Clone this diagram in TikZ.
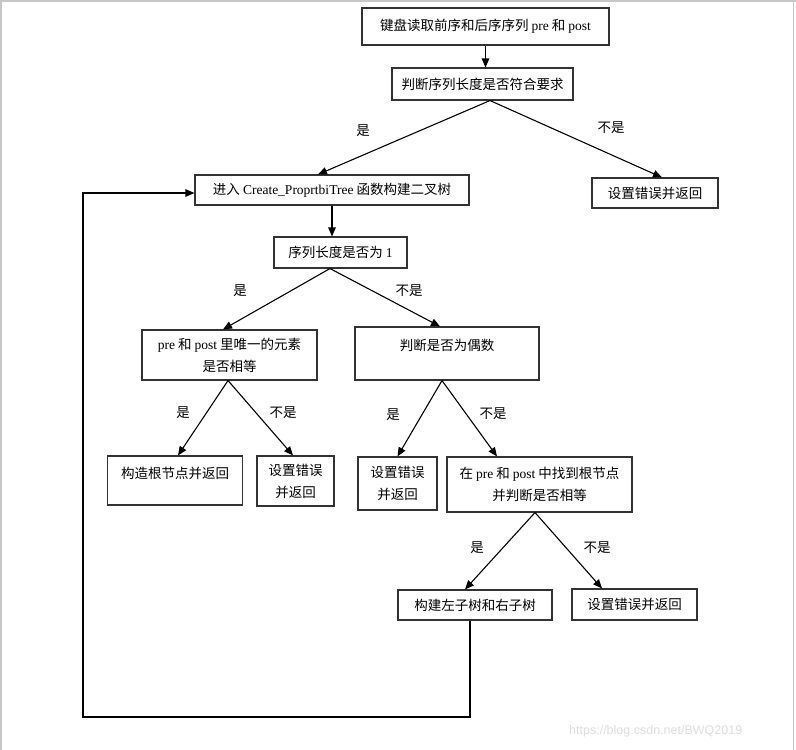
\documentclass[tikz,border=0pt]{standalone}
\usepackage{fontspec}
\setmainfont{Noto Sans CJK SC}
\newfontfamily\lat{Liberation Serif}
\newfontfamily\wmfont{Liberation Sans}
\usetikzlibrary{arrows.meta,calc}
\begin{document}
\begin{tikzpicture}[x=1pt,y=-1pt,
  box/.style={draw=black!80,line width=1.1pt,inner sep=0pt,align=center,font=\fontsize{13.5}{22}\selectfont},
  arr/.style={line width=1.1pt,-{Triangle[length=9pt,width=7.5pt]}},
  lbl/.style={font=\fontsize{13.5}{16}\selectfont,inner sep=0pt}]
\useasboundingbox (0,0) rectangle (796,750);
\fill[white] (0,0) rectangle (796,750);
\fill[black!22] (0,0) rectangle (796,2);
\fill[black!22] (0,0) rectangle (2,750);
\fill[black!22] (792.5,0) rectangle (794,750);

\node[box,minimum width=247,minimum height=37] (b1) at (485.5,26.5) {键盘读取前序和后序序列 {\lat pre} 和 {\lat post}};
\node[box,minimum width=181,minimum height=32] (b2) at (482.5,84) {判断序列长度是否符合要求};
\node[box,minimum width=274,minimum height=30] (b3) at (332,190) {进入 {\lat Create\_ProprtbiTree} 函数构建二叉树};
\node[box,minimum width=126,minimum height=30] (b5) at (655,193) {设置错误并返回};
\node[box,minimum width=133,minimum height=31] (b4) at (340.5,252.5) {序列长度是否为 {\lat 1}};
\node[box,minimum width=175,minimum height=50] (b6) at (229.5,355) {{\lat pre} 和 {\lat post} 里唯一的元素\\是否相等};
\node[box,minimum width=184,minimum height=53] (b7) at (447,353.5) {判断是否为偶数\\[-12pt]\strut};
\node[box,minimum width=135,minimum height=49] (b8) at (175,480.5) {构造根节点并返回\\[-14pt]\strut};
\node[box,minimum width=77,minimum height=50] (b9) at (295.5,481) {设置错误\\并返回};
\node[box,minimum width=79,minimum height=53] (b10) at (397.5,483.5) {设置错误\\并返回};
\node[box,minimum width=185,minimum height=55] (b11) at (539.5,484.5) {在 {\lat pre} 和 {\lat post} 中找到根节点\\并判断是否相等};
\node[box,minimum width=154,minimum height=30] (b12) at (475,605) {构建左子树和右子树};
\node[box,minimum width=125,minimum height=31] (b13) at (634.5,604.5) {设置错误并返回};

\draw[arr] (b1.south) -- (b1.south |- b2.north);
\draw[arr] ([xshift=7.5]b2.south) -- ([xshift=-14]b3.north);
\draw[arr] ([xshift=7.5]b2.south) -- ([xshift=7]b5.north);
\draw[arr] (b3.south) -- (b3.south |- b4.north);
\draw[arr] ([xshift=-10.5]b4.south) -- ([xshift=-6.5]b6.north);
\draw[arr] ([xshift=-10.5]b4.south) -- ([xshift=-7]b7.north);
\draw[arr] ([xshift=-1.5]b6.south) -- ([xshift=3]b8.north);
\draw[arr] ([xshift=-1.5]b6.south) -- ([xshift=-2.5]b9.north);
\draw[arr] ([xshift=-5]b7.south) -- (b10.north);
\draw[arr] ([xshift=-5]b7.south) -- ([xshift=-42.5]b11.north);
\draw[arr] ([xshift=-4.5]b11.south) -- ([xshift=-10]b12.north);
\draw[arr] ([xshift=-4.5]b11.south) -- ([xshift=-32.5]b13.north);

\coordinate (l1) at (83,717);
\coordinate (l2) at (83,193);
\draw[arr] ([xshift=-5]b12.south) |- (l1) -- (l2) -- (l2 -| b3.west);

\node[lbl] (y1) at (363,131) {是};
\node[lbl] (n1) at (611,128) {不是};
\node[lbl] (y2) at (240,291) {是};
\node[lbl] (n2) at (409,291) {不是};
\node[lbl] (y3) at (183,413) {是};
\node[lbl] (n3) at (283,413) {不是};
\node[lbl] (y4) at (393,415) {是};
\node[lbl] (n4) at (493,414) {不是};
\node[lbl] (y5) at (477,548) {是};
\node[lbl] (n5) at (597,548) {不是};

\node[font=\wmfont\fontsize{12.5}{13}\selectfont,text=black!13,anchor=west,inner sep=0pt] (wm) at (569,731) {https://blog.csdn.net/BWQ2019};
\end{tikzpicture}
\end{document}
